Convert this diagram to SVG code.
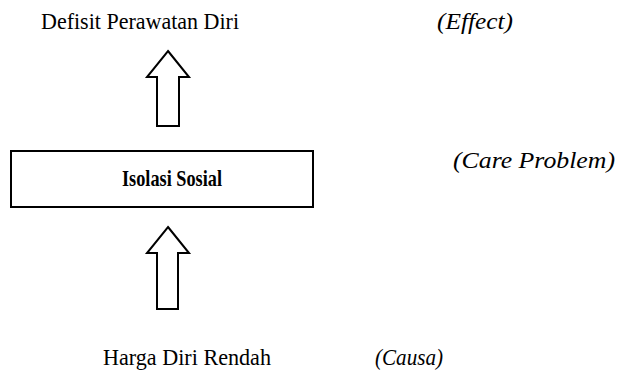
<svg xmlns="http://www.w3.org/2000/svg" width="621" height="376" viewBox="0 0 621 376">
<style>
.i{font-style:italic}
.b{font-weight:bold}
.s{fill:#fff;stroke:#000;stroke-width:2;stroke-linejoin:miter}
</style>
<rect width="621" height="376" fill="#fff"/>
<g font-family="Liberation Serif, Times New Roman, serif" font-size="24" fill="#000">
<g id="effect">
<text x="41" y="29" textLength="198" lengthAdjust="spacingAndGlyphs">Defisit Perawatan Diri</text>
<text class="i" x="437" y="29" textLength="76" lengthAdjust="spacingAndGlyphs">(Effect)</text>
</g>
<g id="problem">
<rect class="s" x="11" y="151" width="302" height="56"/>
<text class="b" x="122" y="186" textLength="100" lengthAdjust="spacingAndGlyphs">Isolasi Sosial</text>
<text class="i" x="453" y="168" textLength="162" lengthAdjust="spacingAndGlyphs">(Care Problem)</text>
</g>
<g id="cause">
<text x="103" y="365" textLength="168" lengthAdjust="spacingAndGlyphs">Harga Diri Rendah</text>
<text class="i" x="375" y="365" textLength="68" lengthAdjust="spacingAndGlyphs">(Causa)</text>
</g>
</g>
<g id="connectors">
<path class="s" d="M168,51 L189,77 L179,77 L179,126 L157,126 L157,77 L147,77 Z"/>
<path class="s" d="M168,227 L189,253 L178,253 L178,309 L157,309 L157,253 L147,253 Z"/>
</g>
</svg>
